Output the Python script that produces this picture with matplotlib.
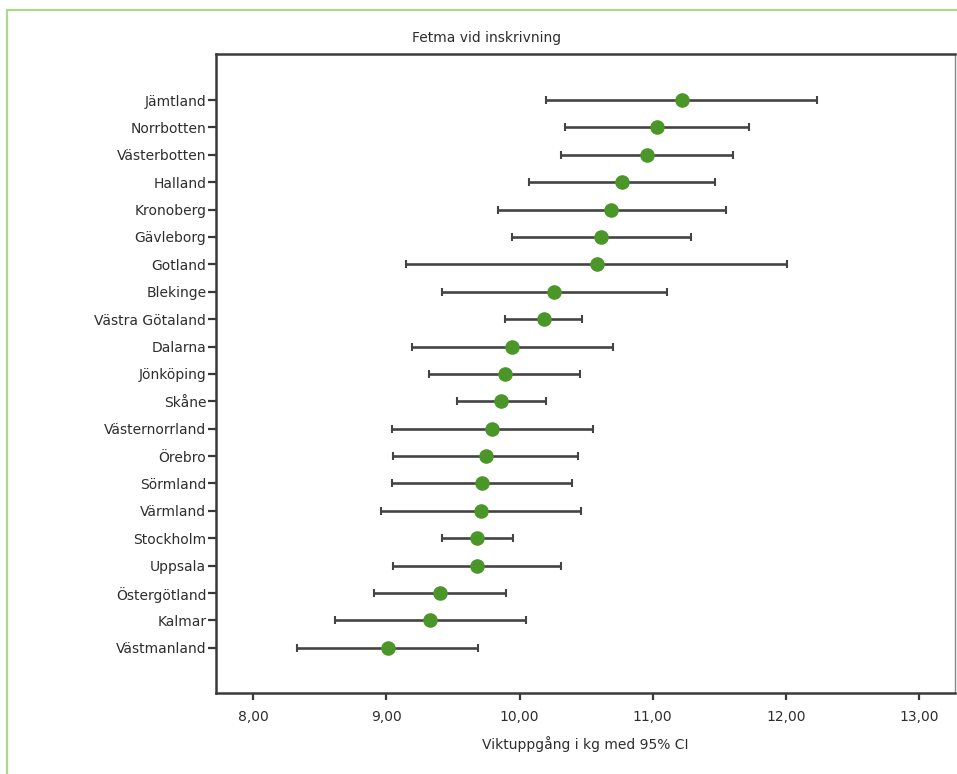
import matplotlib
matplotlib.use('Agg')
import matplotlib.pyplot as plt
from matplotlib.patches import Rectangle
import numpy as np

# Fetma vid inskrivning - mean weight gain with 95% CI per region
regions = ["Jämtland", "Norrbotten", "Västerbotten", "Halland", "Kronoberg",
           "Gävleborg", "Gotland", "Blekinge", "Västra Götaland", "Dalarna",
           "Jönköping", "Skåne", "Västernorrland", "Örebro", "Sörmland",
           "Värmland", "Stockholm", "Uppsala", "Östergötland", "Kalmar",
           "Västmanland"]
means = [11.22, 11.03, 10.96, 10.77, 10.69, 10.61, 10.58, 10.26, 10.18, 9.94,
         9.89, 9.86, 9.79, 9.75, 9.72, 9.71, 9.68, 9.68, 9.40, 9.33, 9.01]
ci_low = [10.20, 10.34, 10.31, 10.07, 9.84, 9.94, 9.15, 9.42, 9.89, 9.19,
          9.32, 9.53, 9.04, 9.05, 9.04, 8.96, 9.42, 9.05, 8.91, 8.61, 8.33]
ci_high = [12.23, 11.72, 11.60, 11.47, 11.55, 11.29, 12.01, 11.11, 10.47, 10.70,
           10.45, 10.20, 10.55, 10.44, 10.39, 10.46, 9.95, 10.31, 9.90, 10.05, 9.69]
xticks = [8, 9, 10, 11, 12, 13]

title = "Fetma vid inskrivning"
xlabel = "Viktuppgång i kg med 95% CI"

W, H = 957, 774
fig = plt.figure(figsize=(W / 100, H / 100), dpi=100)

# light green frame round the chart
fig.patches.append(Rectangle((7 / W, -0.05), 1.2, 1 - 10 / H + 0.05,
                             transform=fig.transFigure, fill=False,
                             edgecolor='#a9d98c', linewidth=1.6))

ax = fig.add_axes([216 / W, (H - 693) / H, (955 - 216) / W, (693 - 54) / H])

y = np.arange(len(regions))
m = np.array(means)
err = [m - np.array(ci_low), np.array(ci_high) - m]
ax.errorbar(m, y, xerr=err, fmt='none', ecolor='#444444', elinewidth=1.9,
            capsize=3.2, capthick=1.5, zorder=2)
ax.plot(m, y, 'o', color='#4a9628', markersize=10.5, markeredgewidth=0, zorder=3)

ax.set_ylim(len(regions) - 1 + 1.65, -1.68)
ax.set_xlim(7.72, 13.27)
ax.set_yticks(y)
ax.set_yticklabels(regions)
ax.set_xticks(xticks)
ax.set_xticklabels([f"{v:.2f}".replace('.', ',') for v in xticks])

for s in ['left', 'bottom', 'top']:
    ax.spines[s].set_color('#3a3a3a')
    ax.spines[s].set_linewidth(1.8)
ax.spines['right'].set_color('#888888')
ax.spines['right'].set_linewidth(1.0)

ax.tick_params(axis='y', length=6, width=1.6, color='#3a3a3a', pad=1,
               labelsize=10, labelcolor='#2e2e2e')
ax.tick_params(axis='x', length=5, width=1.6, color='#3a3a3a', pad=7,
               labelsize=10, labelcolor='#2e2e2e')

ax.set_xlabel(xlabel, fontsize=10, color='#2e2e2e', labelpad=9)
fig.text(487 / W, 1 - 38 / H, title, ha='center', va='center',
         fontsize=10, color='#2e2e2e')

fig.savefig('out.png', dpi=100)
